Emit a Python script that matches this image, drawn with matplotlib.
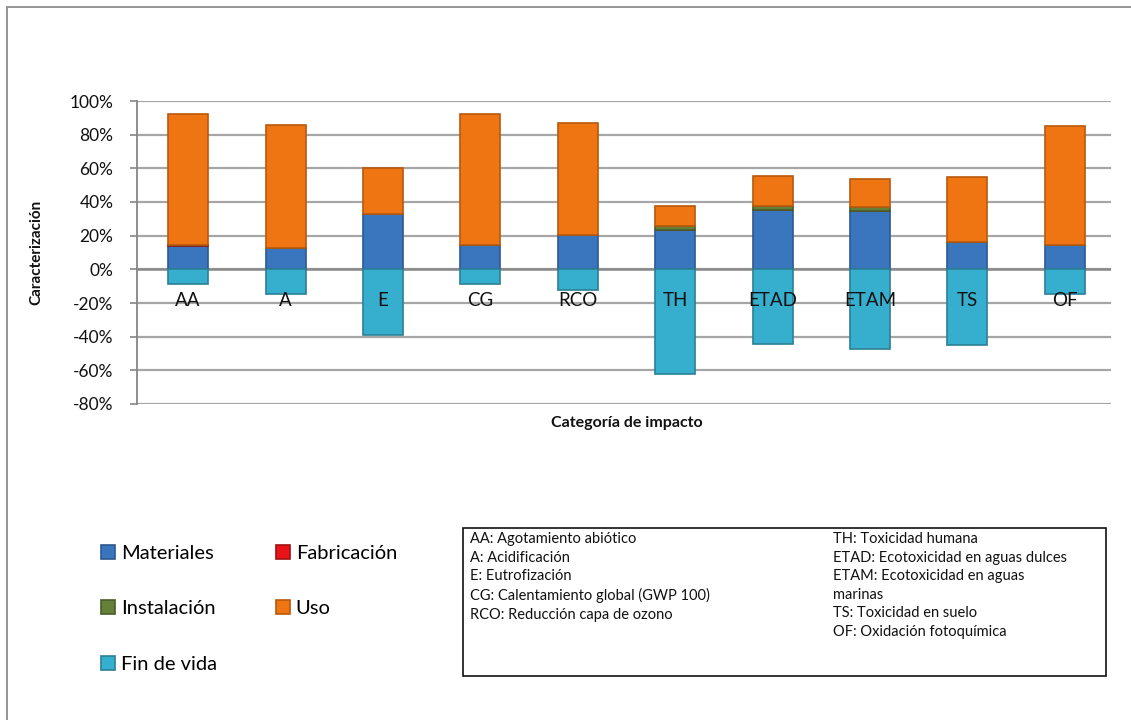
import matplotlib
matplotlib.use("Agg")
import matplotlib.pyplot as plt
import numpy as np
from matplotlib.patches import Rectangle
from matplotlib.ticker import PercentFormatter, MultipleLocator

plt.rcParams['font.family'] = ['Lato', 'DejaVu Sans']
plt.rcParams['axes.unicode_minus'] = False

categories = ["AA", "A", "E", "CG", "RCO", "TH", "ETAD", "ETAM", "TS", "OF"]
materiales = [14.0, 12.9, 33.1, 14.4, 20.4, 23.4, 35.5, 34.7, 16.4, 14.4]
fabricacion = [0.5, 0, 0, 0, 0, 0, 0, 0, 0, 0]
instalacion = [0, 0, 0, 0, 0, 2.4, 2.0, 2.3, 0, 0]
uso = [77.6, 72.7, 27.3, 77.7, 66.7, 11.8, 18.0, 16.9, 38.7, 70.8]
fin_de_vida = [-8.9, -14.4, -39.2, -8.9, -12.5, -62.0, -44.2, -47.1, -45.0, -14.4]

series_names = ["Materiales", "Fabricación", "Instalación", "Uso", "Fin de vida"]
series_values = [materiales, fabricacion, instalacion, uso, fin_de_vida]
series_colors = ["#3a76be", "#e8141a", "#66803a", "#ef7412", "#36afcf"]
edge_colors = ["#2c5a92", "#a01010", "#4a5e2a", "#b8590c", "#2a7f96"]

box_left = ["AA: Agotamiento abiótico", "A: Acidificación", "E: Eutrofización",
            "CG: Calentamiento global (GWP 100)", "RCO: Reducción capa de ozono"]
box_right = ["TH: Toxicidad humana", "ETAD: Ecotoxicidad en aguas dulces",
             "ETAM: Ecotoxicidad en aguas", "marinas", "TS: Toxicidad en suelo",
             "OF: Oxidación fotoquímica"]

W, H = 1131, 720
fig = plt.figure(figsize=(W / 100, H / 100), dpi=100)
fig.patch.set_facecolor("white")

# outer chart frame
fig.patches.append(Rectangle((7 / W, -0.05), 1.2, 1.05 - 7 / H, transform=fig.transFigure,
                             fill=False, edgecolor="#8c8c8c", linewidth=1.3, zorder=0))

ax = fig.add_axes([137 / W, 1 - 404 / H, (1111 - 137) / W, (404 - 101) / H])
x = np.arange(len(categories))
width = 0.41

pos_base = np.zeros(len(categories))
neg_base = np.zeros(len(categories))
handles = []
for name, vals, col, ec in zip(series_names, series_values, series_colors, edge_colors):
    vals = np.array(vals, dtype=float)
    bottoms = np.where(vals >= 0, pos_base, neg_base)
    b = ax.bar(x, vals, width, bottom=bottoms, color=col, edgecolor=ec, linewidth=1.2,
               label=name, zorder=3)
    handles.append(b)
    pos_base = pos_base + np.where(vals > 0, vals, 0)
    neg_base = neg_base + np.where(vals < 0, vals, 0)

ax.set_xlim(-0.525, len(categories) - 0.525)
ax.set_ylim(-80, 100)
ax.yaxis.set_major_locator(MultipleLocator(20))
ax.yaxis.set_major_formatter(PercentFormatter(100, decimals=0))
ax.grid(axis="y", color="#a6a6a6", linewidth=1.6, zorder=0)
ax.set_axisbelow(True)
ax.axhline(0, color="#8a8a8a", linewidth=1.8, zorder=1)
for s in ["top", "right", "bottom"]:
    ax.spines[s].set_visible(False)
ax.spines["left"].set_color("#868686")
ax.spines["left"].set_linewidth(1.3)
ax.tick_params(axis="y", length=5, color="#868686", width=1.2, pad=12, labelsize=12.5,
               labelcolor="#111111")
ax.set_xticks([])

for xi, cat in zip(x, categories):
    ax.annotate(cat, (xi, 0), xytext=(0, -22.5), textcoords="offset points",
                ha="center", va="center", fontsize=13.5, color="#111111", zorder=5)

ax.set_ylabel("Caracterización", fontsize=11, fontweight="bold", color="#111111")
ax.yaxis.set_label_coords(-0.0965, 0.5)
ax.set_xlabel("Categoría de impacto", fontsize=11.5, fontweight="bold", color="#111111")
ax.xaxis.set_label_coords(0.503, -0.063)
ax.xaxis.label.set_va("center")

order = [0, 2, 4, 1, 3]
leg = fig.legend([handles[i] for i in order], [series_names[i] for i in order],
                 ncol=2, loc="upper left", bbox_to_anchor=(101 / W, 1 - 545 / H),
                 frameon=False, fontsize=14.5, handlelength=0.7, handleheight=0.7,
                 handletextpad=0.3, labelspacing=1.9, columnspacing=2.9,
                 borderaxespad=0, borderpad=0)

# abbreviations box
fig.patches.append(Rectangle((463 / W, 1 - 676 / H), (1106 - 463) / W, (676 - 528) / H,
                             transform=fig.transFigure, fill=False, edgecolor="#111111",
                             linewidth=1.2, zorder=1))
fig.text(470 / W, 1 - 532 / H, "\n".join(box_left), ha="left", va="top",
         fontsize=10.5, linespacing=1.42, color="#111111")
fig.text(833 / W, 1 - 532 / H, "\n".join(box_right), ha="left", va="top",
         fontsize=10.5, linespacing=1.42, color="#111111")

fig.savefig("out.png", dpi=100)
